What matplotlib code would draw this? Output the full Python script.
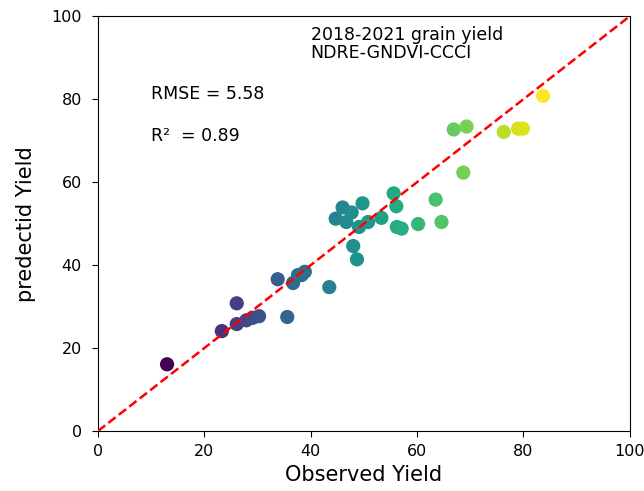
import numpy as np
import matplotlib
matplotlib.use("Agg")
import matplotlib.pyplot as plt

# observed vs predicted grain yield
observed = [13.0, 23.3, 26.1, 26.1, 27.9, 29.1, 30.3, 33.8, 35.6, 36.7, 37.6,
            38.3, 38.9, 43.5, 44.7, 46.0, 46.7, 47.7, 48.0, 48.7, 49.1, 49.75,
            50.8, 53.3, 55.6, 56.1, 56.2, 57.1, 60.2, 63.5, 64.6, 66.9, 68.7,
            69.3, 76.3, 79.0, 79.9, 83.7]
predicted = [16.1, 24.1, 30.8, 25.8, 26.7, 27.3, 27.7, 36.6, 27.5, 35.7, 37.6,
             37.6, 38.4, 34.7, 51.2, 53.9, 50.4, 52.7, 44.6, 41.4, 49.2, 54.9,
             50.4, 51.4, 57.3, 54.2, 49.2, 48.8, 49.9, 55.8, 50.4, 72.7, 62.3,
             73.4, 72.1, 72.9, 72.9, 80.8]

rmse = 5.58
r2 = 0.89

fig = plt.figure(figsize=(6.44, 4.91), dpi=100)
ax = fig.add_axes([0.152, 0.122, 0.826, 0.845])

ax.scatter(observed, predicted, c=observed, cmap='viridis', s=85, zorder=2)
ax.plot([0, 100], [0, 100], '--', color='red', linewidth=1.8, zorder=3)

ax.set_xlim(0, 100)
ax.set_ylim(0, 100)
ax.set_xlabel('Observed Yield', fontsize=15)
ax.set_ylabel('predectid Yield', fontsize=15)
ax.yaxis.set_label_coords(-0.117, 0.5)
ax.tick_params(labelsize=11.5, length=4.5)
ax.tick_params(axis='x', pad=5)
ax.tick_params(axis='y', pad=7)

ax.text(40, 90, '2018-2021 grain yield\nNDRE-GNDVI-CCCI', fontsize=12.5,
        linespacing=1.0)
ax.text(10, 80, 'RMSE = %.2f' % rmse, fontsize=12.5)
ax.text(10, 70, 'R²  = %.2f' % r2, fontsize=12.5)

fig.savefig('out.png', dpi=100)
